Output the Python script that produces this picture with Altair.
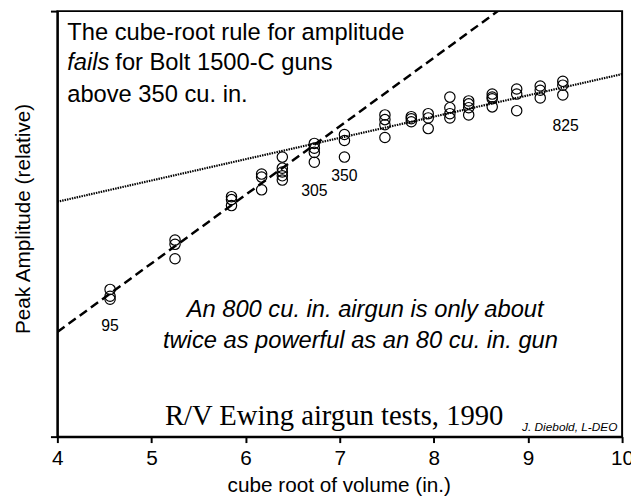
import altair as alt
import pandas as pd

# ---- data ----
# cube root of gun volume (x) for each tested Bolt 1500-C gun size
gun_cuberoot = [4.56, 5.25, 5.85, 6.17, 6.39, 6.73, 7.05, 7.48, 7.76, 7.94,
                8.17, 8.37, 8.62, 8.88, 9.13, 9.37]
# relative peak amplitudes measured for each gun (several shots each)
peak_amps = [
    [3.46, 3.30, 3.23],
    [4.62, 4.52, 4.18],
    [5.64, 5.57, 5.43],
    [6.17, 6.10, 5.80],
    [6.57, 6.31, 6.22, 6.13, 6.03],
    [6.89, 6.78, 6.68, 6.45],
    [7.10, 6.96, 6.57],
    [7.56, 7.45, 7.33, 7.03],
    [7.52, 7.47, 7.40],
    [7.59, 7.49, 7.24],
    [7.98, 7.73, 7.59, 7.49],
    [7.89, 7.82, 7.73, 7.56],
    [8.05, 7.98, 7.94, 7.75],
    [8.17, 8.05, 7.66],
    [8.24, 8.14, 7.96],
    [8.35, 8.26, 8.03],
]

# cube-root rule line (dashed) and observed trend (dotted)
cuberoot_rule_x = [4.0, 8.68]
cuberoot_rule_y = [2.46, 10.0]
trend_x = [4.0, 10.0]
trend_y = [5.52, 8.52]

# volume labels
vol_labels = ["95", "305", "350", "825"]
vol_label_x = [4.56, 6.73, 7.05, 9.40]
vol_label_y = [2.61, 5.76, 6.12, 7.31]

# annotation lines
note_plain_text = ["The cube-root rule for amplitude", "for Bolt 1500-C guns", "above 350 cu. in."]
note_plain_x = [4.105, 4.616, 4.105]
note_plain_y = [9.33, 8.61, 7.87]
note_fails_text = ["fails"]
note_fails_x = [4.105]
note_fails_y = [8.61]
note_italic_text = ["An 800 cu. in. airgun is only about", "twice as powerful as an 80 cu. in. gun"]
note_italic_x = [7.27, 7.22]
note_italic_y = [2.81, 2.09]
source_text = ["R/V Ewing airgun tests, 1990"]
source_x = [5.143]
source_y = [0.28]
credit_text = ["J. Diebold, L-DEO"]
credit_x = [9.95]
credit_y = [0.14]

x_ticks = [4, 5, 6, 7, 8, 9, 10]

# ---- tables ----
pts = pd.DataFrame(
    [(gx, a) for gx, amps in zip(gun_cuberoot, peak_amps) for a in amps],
    columns=["x", "y"],
)
rule_df = pd.DataFrame({"x": cuberoot_rule_x, "y": cuberoot_rule_y})
trend_df = pd.DataFrame({"x": trend_x, "y": trend_y})
lab_df = pd.DataFrame({"x": vol_label_x, "y": vol_label_y, "t": vol_labels})
plain_df = pd.DataFrame({"x": note_plain_x, "y": note_plain_y, "t": note_plain_text})
fails_df = pd.DataFrame({"x": note_fails_x, "y": note_fails_y, "t": note_fails_text})
ital_df = pd.DataFrame({"x": note_italic_x, "y": note_italic_y, "t": note_italic_text})
src_df = pd.DataFrame({"x": source_x, "y": source_y, "t": source_text})
cred_df = pd.DataFrame({"x": credit_x, "y": credit_y, "t": credit_text})

SANS = "Liberation Sans"

X = alt.X(
    "x:Q",
    scale=alt.Scale(domain=[4, 10], nice=False, zero=False),
    axis=alt.Axis(
        values=x_ticks, format="d", grid=False,
        labelFont=SANS, labelFontSize=21, labelColor="black", labelPadding=5,
        labelFlush=False,
        tickSize=6, tickWidth=2, tickColor="black",
        domainWidth=2, domainColor="black",
        title="cube root of volume (in.)", titleFont=SANS, titleFontSize=21,
        titleFontWeight="normal", titleColor="black",
        titleX=285, titleY=56, titleAlign="center", titleBaseline="alphabetic",
    ),
)
Y = alt.Y(
    "y:Q",
    scale=alt.Scale(domain=[0, 10], nice=False, zero=False),
    axis=alt.Axis(
        values=[0, 10], labels=False, grid=False,
        tickSize=7, tickWidth=2, tickColor="black",
        domainWidth=2, domainColor="black",
        title="Peak Amplitude (relative)", titleFont=SANS, titleFontSize=21,
        titleFontWeight="normal", titleColor="black",
        titleX=-28.5, titleY=210, titleAngle=270, titleAlign="center",
        titleBaseline="alphabetic",
    ),
)

rule = alt.Chart(rule_df).mark_line(
    color="black", strokeWidth=2.5, strokeDash=[9, 5], clip=True
).encode(x=X, y=Y)
trend = alt.Chart(trend_df).mark_line(
    color="black", strokeWidth=2.2, strokeDash=[1.5, 1.0], clip=True
).encode(x=X, y=Y)
points = alt.Chart(pts).mark_point(
    shape="circle", filled=False, size=110, strokeWidth=1.2, color="black", opacity=1
).encode(x=X, y=Y)
labels = alt.Chart(lab_df).mark_text(
    font=SANS, fontSize=16, color="black", align="center", baseline="middle"
).encode(x=X, y=Y, text="t:N")
plain = alt.Chart(plain_df).mark_text(
    font=SANS, fontSize=24, color="black", align="left", baseline="alphabetic"
).encode(x=X, y=Y, text="t:N")
fails = alt.Chart(fails_df).mark_text(
    font=SANS, fontSize=24, fontStyle="italic", color="black", align="left",
    baseline="alphabetic"
).encode(x=X, y=Y, text="t:N")
ital = alt.Chart(ital_df).mark_text(
    font=SANS, fontSize=24, fontStyle="italic", color="black", align="center",
    baseline="alphabetic"
).encode(x=X, y=Y, text="t:N")
src = alt.Chart(src_df).mark_text(
    font="Liberation Serif", fontSize=29, color="black", align="left",
    baseline="alphabetic"
).encode(x=X, y=Y, text="t:N")
cred = alt.Chart(cred_df).mark_text(
    font=SANS, fontSize=12, fontStyle="italic", color="black", align="right",
    baseline="alphabetic"
).encode(x=X, y=Y, text="t:N")

chart = (
    alt.layer(trend, rule, points, labels, plain, fails, ital, src, cred)
    .properties(
        width=572, height=431,
        autosize=alt.AutoSizeParams(type="none"),
        padding={"left": 50, "top": 0, "right": 9, "bottom": 60},
        background="white",
    )
    .configure_view(stroke="black", strokeWidth=2)
)

chart.save("out.html", embed_options={"renderer": "svg", "actions": False})
